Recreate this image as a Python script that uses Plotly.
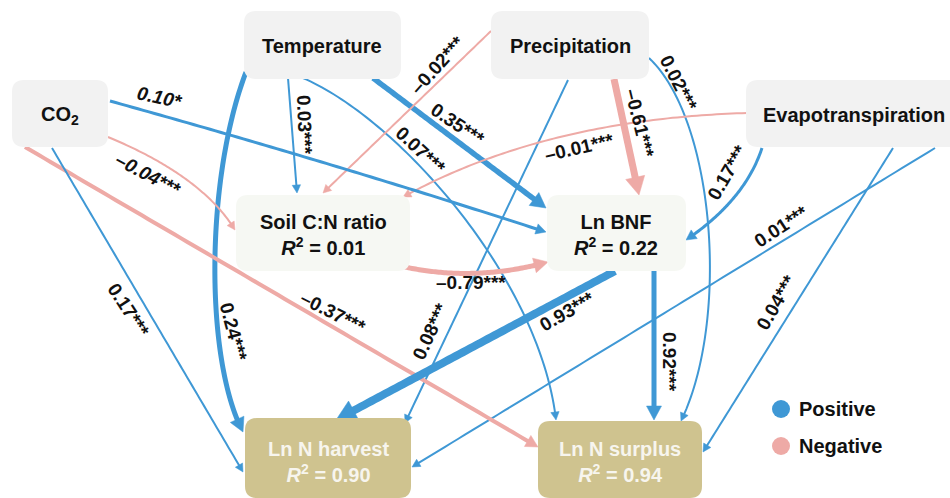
import numpy as np
import plotly.graph_objects as go
from math import comb

# ---------------- data ----------------
node_keys = ["TEMP", "PREC", "CO2", "ET", "SCN", "BNF", "HARV", "SURP"]
node_names = ["Temperature", "Precipitation", "CO<sub>2</sub>", "Evapotranspiration",
              "Soil C:N ratio", "Ln BNF", "Ln N harvest", "Ln N surplus"]
node_r2 = [None, None, None, None, 0.01, 0.22, 0.90, 0.94]

path_from = ["TEMP", "TEMP", "TEMP", "TEMP",
             "PREC", "PREC", "PREC", "PREC",
             "ET", "ET", "ET", "ET",
             "CO2", "CO2", "CO2", "CO2",
             "SCN", "BNF", "BNF"]
path_to = ["HARV", "SCN", "BNF", "SURP",
           "SCN", "BNF", "HARV", "SURP",
           "SCN", "BNF", "HARV", "SURP",
           "BNF", "SCN", "SURP", "HARV",
           "BNF", "HARV", "SURP"]
path_coef = [0.24, 0.03, 0.35, 0.07,
             -0.02, -0.61, 0.08, 0.02,
             -0.01, 0.17, 0.01, 0.04,
             0.10, -0.04, -0.37, 0.17,
             -0.79, 0.93, 0.92]
path_sig = ["***", "***", "***", "***",
            "***", "***", "***", "***",
            "***", "***", "***", "***",
            "*", "***", "***", "***",
            "***", "***", "***"]
legend_labels = ["Positive", "Negative"]

# ---------------- layout / style ----------------
W, H = 950, 498
POS_COLOR = "#3f98d5"
NEG_COLOR = "#eeaaa6"
FONT = "Liberation Sans, Arial, sans-serif"

# box geometry (x0, y0, x1, y1) in pixel space
box_geom = {
    "TEMP": (244, 11, 401, 79),
    "PREC": (491, 11, 649, 79),
    "CO2": (12, 80, 108, 147),
    "ET": (746, 80, 968, 147),
    "SCN": (236, 195, 410, 271),
    "BNF": (547, 195, 686, 271),
    "HARV": (245, 418, 411, 498),
    "SURP": (538, 421, 702, 498),
}
box_fill = {"TEMP": "#f2f2f2", "PREC": "#f2f2f2", "CO2": "#f2f2f2", "ET": "#f2f2f2",
            "SCN": "#f6f8f3", "BNF": "#f6f8f3", "HARV": "#cfc38f", "SURP": "#cfc38f"}
text_pos = {"TEMP": (322, 46), "PREC": (570, 46), "CO2": (60, 115), "ET": (854, 115),
            "SCN": (323, 235), "BNF": (616, 235), "HARV": (328, 462), "SURP": (620, 462)}
text_color = {"HARV": "#f7f5ee", "SURP": "#f7f5ee"}

# path control points (bezier: 2 = straight, 3 = quadratic, 4 = cubic)
path_geom = [
    [(246, 72), (205, 180), (205, 360), (243, 432)],
    [(288, 78), (297, 193)],
    [(373, 78), (546, 208)],
    [(303, 78), (400, 120), (540, 280), (556, 420)],
    [(491, 31), (323, 193)],
    [(614, 79), (639, 195)],
    [(568, 80), (405, 423)],
    [(649, 58), (715, 120), (730, 320), (681, 421)],
    [(747, 113), (545, 119), (403, 197)],
    [(762, 148), (745, 200), (686, 240)],
    [(935, 148), (412, 467)],
    [(893, 148), (703, 452)],
    [(110, 101), (330, 162), (546, 232)],
    [(108, 137), (202, 176), (235, 230)],
    [(25, 147), (538, 447)],
    [(52, 148), (243, 472)],
    [(405, 267), (475, 282), (548, 262)],
    [(615, 271), (336, 420)],
    [(654, 271), (654, 420)],
]
path_width = [5, 2, 5.5, 2,
              2, 7, 2, 2,
              2, 3, 2, 2,
              3, 2, 4, 2,
              5, 8, 5]
# label centers and angles (deg, clockwise)
label_geom = [
    (234, 332, 75), (305, 125, 88), (458, 124, 34), (421, 150, 43),
    (437, 65, -48), (640, 123, 76), (430, 331, -65), (679, 83, 63),
    (579, 147, -13), (727, 172, -60), (781, 226, -33), (776, 302, -60),
    (160, 97, 12), (148, 174, 28), (333, 312, 27), (129, 310, 57),
    (471, 282, 0), (567, 311, -30), (670, 362, 90),
]
italic_labels = {12, 13}
legend_geom = [(781, 409), (781, 446)]


def bezier(pts, n=80):
    pts = np.array(pts, dtype=float)
    t = np.linspace(0, 1, n)[:, None]
    k = len(pts) - 1
    out = np.zeros((n, 2))
    for i, p in enumerate(pts):
        out += comb(k, i) * (1 - t) ** (k - i) * t ** i * p
    return out


def cut_from_end(pts, dist):
    seg = np.sqrt(((pts[1:] - pts[:-1]) ** 2).sum(1))
    cum = np.concatenate([[0], np.cumsum(seg)])
    target = cum[-1] - dist
    idx = np.searchsorted(cum, target)
    idx = max(1, min(idx, len(pts) - 1))
    f = (target - cum[idx - 1]) / max(seg[idx - 1], 1e-9)
    p = pts[idx - 1] + f * (pts[idx] - pts[idx - 1])
    return np.vstack([pts[:idx], p]), p


def rrect(x0, y0, x1, y1, r=12):
    return (f"M {x0+r},{y0} L {x1-r},{y0} Q {x1},{y0} {x1},{y0+r} "
            f"L {x1},{y1-r} Q {x1},{y1} {x1-r},{y1} L {x0+r},{y1} "
            f"Q {x0},{y1} {x0},{y1-r} L {x0},{y0+r} Q {x0},{y0} {x0+r},{y0} Z")


shapes = []
annotations = []

# arrows
for i in range(len(path_coef)):
    color = POS_COLOR if path_coef[i] > 0 else NEG_COLOR
    w = path_width[i]
    pts = bezier(path_geom[i])
    L = 4 + 2.0 * w
    hw = 2.0 + 1.1 * w
    line_pts, _ = cut_from_end(pts, L * 0.75)
    _, base = cut_from_end(pts, L)
    tip = pts[-1]
    d = tip - base
    d = d / np.linalg.norm(d)
    perp = np.array([-d[1], d[0]])
    b = tip - d * L
    c1 = b + perp * hw
    c2 = b - perp * hw
    path = "M " + " L ".join(f"{x:.2f},{y:.2f}" for x, y in line_pts)
    shapes.append(dict(type="path", path=path, xref="x", yref="y",
                       line=dict(color=color, width=w), fillcolor="rgba(0,0,0,0)"))
    tri = f"M {tip[0]:.2f},{tip[1]:.2f} L {c1[0]:.2f},{c1[1]:.2f} L {c2[0]:.2f},{c2[1]:.2f} Z"
    shapes.append(dict(type="path", path=tri, xref="x", yref="y",
                       line=dict(color=color, width=0.5), fillcolor=color))

# boxes
for k in node_keys:
    x0, y0, x1, y1 = box_geom[k]
    shapes.append(dict(type="path", path=rrect(x0, y0, x1, y1), xref="x", yref="y",
                       line=dict(width=0), fillcolor=box_fill[k]))

# node texts
for k, name, r2 in zip(node_keys, node_names, node_r2):
    txt = f"<b>{name}</b>"
    if r2 is not None:
        txt = f"<b>{name}<br><i>R</i><sup>2</sup> = {r2:.2f}</b>"
    x, y = text_pos[k]
    annotations.append(dict(x=x, y=y, xref="x", yref="y", text=txt, showarrow=False,
                            xanchor="center", yanchor="middle",
                            font=dict(family=FONT, size=20, color=text_color.get(k, "#111111"))))

# path labels
for i, c in enumerate(path_coef):
    sign = "–" if c < 0 else ""
    body = f"{sign}{abs(c):.2f}{path_sig[i]}"
    if i in italic_labels:
        body = f"<i>{body}</i>"
    x, y, ang = label_geom[i]
    annotations.append(dict(x=x, y=y, xref="x", yref="y", text=f"<b>{body}</b>",
                            showarrow=False, textangle=ang, xanchor="center", yanchor="middle",
                            font=dict(family=FONT, size=19, color="#111111")))

# legend
for (lx, ly), lab, col in zip(legend_geom, legend_labels, [POS_COLOR, NEG_COLOR]):
    shapes.append(dict(type="circle", xref="x", yref="y", x0=lx - 9, x1=lx + 9,
                       y0=ly - 9, y1=ly + 9, fillcolor=col, line=dict(width=0)))
    annotations.append(dict(x=lx + 16, y=ly, xref="x", yref="y", text=f"<b>{lab}</b>",
                            showarrow=False, xanchor="left", yanchor="middle",
                            font=dict(family=FONT, size=20, color="#111111")))

fig = go.Figure()
fig.add_trace(go.Scatter(x=[0, W], y=[0, H], mode="markers",
                         marker=dict(opacity=0), hoverinfo="skip", showlegend=False))
fig.update_layout(
    width=W, height=H, margin=dict(l=0, r=0, t=0, b=0),
    paper_bgcolor="white", plot_bgcolor="white",
    xaxis=dict(range=[0, W], visible=False, fixedrange=True),
    yaxis=dict(range=[H, 0], visible=False, fixedrange=True),
    shapes=shapes, annotations=annotations, showlegend=False,
)
fig.write_html("out.html", config={"displayModeBar": False},
               post_script="document.body.style.margin='0';document.body.style.overflow='hidden';")
